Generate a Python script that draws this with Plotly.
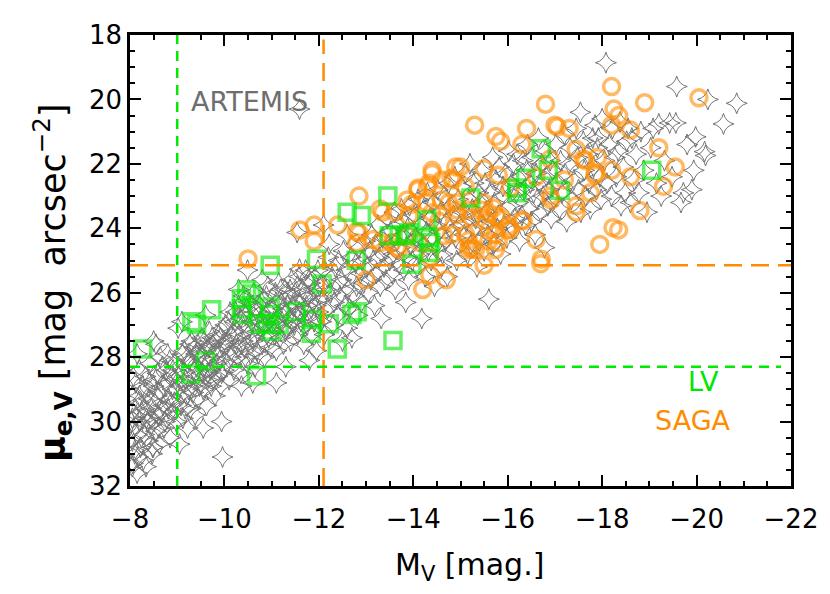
import plotly.graph_objects as go

# ---------------- data ----------------
# ARTEMIS (gray 4-point stars): M_V and mu_e,V, grouped by magnitude band
art_a_mv = [-8.05,-8.05,-8.05,-8.05,-8.08,-8.1,-8.1,-8.12,-8.15,-8.15,-8.18,-8.2,-8.2,-8.22,-8.25,-8.28,-8.3,-8.3,-8.33,-8.35,-8.38,-8.4,-8.42,-8.45,-8.45,-8.48,-8.5,-8.52,-8.55,-8.55,-8.58,-8.6,-8.62,-8.65,-8.68,-8.7,-8.72,-8.75,-8.78,-8.8,-8.82,-8.85,-8.88,-8.9,-8.92,-8.95,-8.98,-8.5,-8.06,-8.49,-8.15]
art_a_mu = [31.4,30.6,29.9,29.2,30.2,31.0,29.6,28.8,30.4,31.6,29.4,30.0,28.4,30.8,29.7,31.2,29.0,30.4,28.6,29.9,30.6,29.3,28.2,30.1,29.6,30.8,28.9,29.4,30.3,27.6,28.5,29.8,30.7,29.1,28.3,29.5,30.2,28.8,29.9,27.9,29.3,30.5,28.6,29.0,29.7,28.2,30.0,27.5,31.3,30.8,27.9]

art_b_mv = [-9.02,-9.05,-9.05,-9.08,-9.1,-9.12,-9.15,-9.18,-9.2,-9.22,-9.25,-9.28,-9.3,-9.32,-9.35,-9.38,-9.4,-9.42,-9.45,-9.48,-9.5,-9.52,-9.55,-9.55,-9.58,-9.6,-9.62,-9.65,-9.68,-9.7,-9.72,-9.75,-9.78,-9.8,-9.82,-9.85,-9.88,-9.9,-9.92,-9.94,-9.96,-9.97,-9.99,-9.1,-9.6]
art_b_mu = [27.1,30.7,28.9,29.5,28.4,29.9,27.8,28.7,29.2,30.2,28.1,29.6,27.5,28.9,28.4,29.8,27.9,28.6,29.3,28.0,28.8,27.4,29.0,30.2,28.3,27.7,29.5,28.5,27.2,28.0,28.9,27.6,28.3,29.2,27.9,28.6,27.3,28.1,28.9,30.0,31.1,27.6,28.4,26.9,26.7]

art_c_mv = [-10.02,-10.05,-10.08,-10.1,-10.12,-10.15,-10.18,-10.2,-10.22,-10.25,-10.28,-10.3,-10.32,-10.35,-10.36,-10.38,-10.4,-10.42,-10.45,-10.48,-10.49,-10.5,-10.52,-10.55,-10.58,-10.6,-10.62,-10.65,-10.68,-10.7,-10.72,-10.75,-10.78,-10.8,-10.82,-10.85,-10.88,-10.9,-10.92,-10.95,-10.98,-10.3,-10.8,-11.1,-10.6]
art_c_mu = [27.0,28.2,27.5,28.7,26.6,27.8,27.2,28.4,26.9,27.6,28.0,26.4,27.3,28.5,28.9,27.0,26.1,27.7,26.7,28.2,25.3,27.3,26.3,27.9,26.9,27.5,26.0,28.3,26.6,27.2,27.9,26.4,26.9,27.6,26.2,28.0,26.7,27.3,25.8,26.9,27.7,25.9,25.6,28.8,28.8]

art_d_mv = [-11.02,-11.05,-11.08,-11.1,-11.12,-11.15,-11.18,-11.2,-11.22,-11.25,-11.28,-11.3,-11.32,-11.35,-11.38,-11.4,-11.42,-11.45,-11.48,-11.5,-11.52,-11.55,-11.58,-11.59,-11.6,-11.62,-11.65,-11.68,-11.7,-11.72,-11.75,-11.78,-11.8,-11.82,-11.85,-11.88,-11.9,-11.92,-11.95,-11.97,-11.99,-11.54,-11.3,-11.8,-11.59]
art_d_mu = [26.5,27.2,26.0,27.8,26.8,25.7,27.4,26.3,26.9,27.6,25.9,26.6,27.1,26.1,26.8,27.5,25.6,26.4,27.0,26.0,26.7,27.3,25.5,25.27,26.3,26.9,25.9,27.6,26.5,25.3,27.0,26.1,26.7,25.7,27.3,26.3,26.9,25.5,27.8,26.0,26.6,24.13,28.3,28.1,20.3]

art_e_mv = [-12.02,-12.05,-12.08,-12.1,-12.12,-12.15,-12.18,-12.2,-12.22,-12.25,-12.28,-12.3,-12.32,-12.35,-12.38,-12.4,-12.42,-12.45,-12.48,-12.5,-12.52,-12.55,-12.58,-12.6,-12.62,-12.65,-12.68,-12.7,-12.72,-12.75,-12.78,-12.8,-12.82,-12.85,-12.88,-12.9,-12.92,-12.95,-12.98,-12.1,-12.6]
art_e_mu = [25.8,26.9,26.2,25.3,27.3,25.9,26.5,24.9,24.5,26.0,25.5,27.0,26.3,25.2,25.8,26.7,25.0,26.1,25.6,27.5,24.7,26.4,25.3,27.1,25.9,26.5,24.9,27.4,25.5,26.1,25.1,25.8,26.7,24.6,25.4,26.3,25.0,25.7,24.4,23.9,24.2]

art_f_mv = [-13.02,-13.05,-13.08,-13.1,-13.12,-13.15,-13.18,-13.2,-13.22,-13.25,-13.28,-13.3,-13.32,-13.35,-13.38,-13.4,-13.42,-13.45,-13.48,-13.5,-13.52,-13.55,-13.58,-13.6,-13.62,-13.65,-13.68,-13.7,-13.72,-13.75,-13.78,-13.8,-13.82,-13.84,-13.85,-13.88,-13.9,-13.92,-13.95,-13.98]
art_f_mu = [25.2,26.0,24.7,25.6,24.2,25.0,26.4,24.5,25.4,23.9,24.9,25.8,26.8,24.3,25.2,24.7,25.6,23.7,24.5,25.0,24.1,25.4,24.8,23.5,25.9,24.4,23.9,25.1,24.6,23.4,24.2,25.3,23.8,26.3,24.9,24.0,25.6,23.3,24.5,25.0]

art_g_mv = [-14.02,-14.05,-14.08,-14.1,-14.12,-14.15,-14.18,-14.2,-14.22,-14.25,-14.28,-14.3,-14.32,-14.35,-14.38,-14.4,-14.42,-14.45,-14.48,-14.5,-14.52,-14.55,-14.58,-14.6,-14.62,-14.65,-14.68,-14.7,-14.72,-14.75,-14.78,-14.8,-14.82,-14.85,-14.88,-14.9,-14.92,-14.95,-14.98]
art_g_mu = [23.6,24.3,25.2,23.1,24.8,23.9,26.8,24.5,23.4,25.5,24.1,22.9,24.7,23.7,25.0,24.3,23.2,25.8,23.9,24.6,22.8,24.1,23.5,25.2,24.8,23.0,24.4,23.8,25.5,22.6,24.0,23.3,24.7,23.6,22.4,24.3,25.0,23.1,23.9]

art_h_mv = [-15.02,-15.05,-15.08,-15.1,-15.12,-15.15,-15.18,-15.2,-15.22,-15.25,-15.28,-15.3,-15.32,-15.35,-15.38,-15.4,-15.42,-15.45,-15.48,-15.5,-15.52,-15.55,-15.58,-15.6,-15.62,-15.65,-15.68,-15.7,-15.72,-15.75,-15.78,-15.8,-15.82,-15.85,-15.88,-15.9,-15.92,-15.95,-15.98]
art_h_mu = [22.7,23.5,24.2,22.3,23.8,24.8,23.1,22.0,24.5,23.4,22.6,24.0,23.7,25.2,22.9,24.4,23.2,22.2,23.9,24.7,22.6,23.5,24.2,26.2,22.9,23.8,21.8,24.5,23.2,22.5,24.0,23.6,22.1,24.8,23.0,22.7,23.9,22.3,24.3]

art_i_mv = [-16.02,-16.05,-16.08,-16.1,-16.12,-16.15,-16.18,-16.2,-16.22,-16.25,-16.28,-16.3,-16.32,-16.35,-16.38,-16.4,-16.42,-16.45,-16.48,-16.5,-16.52,-16.55,-16.58,-16.6,-16.62,-16.65,-16.68,-16.7,-16.72,-16.75,-16.78,-16.8,-16.82,-16.85,-16.88,-16.9,-16.92,-16.95,-16.98]
art_i_mu = [21.6,23.3,22.6,24.0,22.0,23.7,22.9,21.7,23.2,24.4,22.4,23.6,21.9,22.8,23.9,22.2,21.4,23.4,22.6,23.8,21.8,22.9,24.2,22.3,23.1,21.2,22.6,23.5,22.0,23.0,24.6,21.6,22.4,23.3,22.8,21.9,23.7,22.2,23.1]

art_j_mv = [-17.02,-17.05,-17.1,-17.12,-17.15,-17.2,-17.22,-17.25,-17.3,-17.32,-17.35,-17.4,-17.45,-17.48,-17.5,-17.54,-17.55,-17.6,-17.62,-17.65,-17.7,-17.72,-17.75,-17.8,-17.82,-17.85,-17.88,-17.9,-17.92,-17.95,-17.98,-18.0]
art_j_mu = [21.4,22.6,23.4,21.9,22.9,21.1,22.3,23.8,22.0,21.5,23.1,22.5,20.9,21.8,22.8,20.4,23.5,21.3,22.2,23.0,21.7,22.6,23.4,21.2,22.1,20.8,22.8,21.5,21.2,22.4,23.1,20.6]

art_k_mv = [-18.08,-18.05,-18.1,-18.15,-18.2,-18.22,-18.27,-18.3,-18.34,-18.38,-18.4,-18.45,-18.49,-18.52,-18.55,-18.6,-18.63,-18.68,-18.72,-18.78,-18.82,-18.88,-18.95,-19.03,-19.08,-19.15,-19.2,-19.25,-19.32,-19.43,-19.48,-19.56,-19.58,-19.67,-19.72,-19.8,-19.94,-19.98,-20.17,-20.19,-20.24,-20.57,-20.85,-19.9]
art_k_mu = [18.86,21.9,22.6,21.4,23.0,20.9,21.8,22.4,21.6,20.7,23.3,22.1,22.9,21.3,20.9,23.2,21.2,22.5,21.7,22.9,21.0,22.2,23.5,21.5,20.9,22.6,20.76,23.0,21.9,20.73,22.4,20.73,19.6,23.2,22.9,21.4,22.2,21.16,21.62,21.74,20.0,20.76,20.12,22.8]

# extra faint-end ARTEMIS galaxies (dense band)
art_l_mv = [-8.03,-8.07,-8.1,-8.13,-8.17,-8.2,-8.24,-8.27,-8.31,-8.34,-8.37,-8.41,-8.44,-8.47,-8.51,-8.54,-8.57,-8.61,-8.64,-8.67,-8.71,-8.74,-8.77,-8.81,-8.84,-8.87,-8.91,-8.94,-8.97,
            -9.03,-9.07,-9.11,-9.14,-9.17,-9.21,-9.24,-9.27,-9.31,-9.34,-9.37,-9.41,-9.44,-9.47,-9.51,-9.54,-9.57,-9.61,-9.64,-9.67,-9.71,-9.74,-9.77,-9.81,-9.84,-9.87,-9.91,-9.94,-9.97,
            -10.04,-10.09,-10.14,-10.19,-10.24,-10.29,-10.34,-10.39,-10.44,-10.47,-10.54,-10.59,-10.64,-10.69,-10.74,-10.79,-10.84,-10.89,-10.94,-10.99,
            -11.04,-11.09,-11.14,-11.19,-11.24,-11.29,-11.34,-11.39,-11.44,-11.49,-11.54,-11.59,-11.64,-11.69,-11.74,-11.79,-11.84,-11.89,-11.94,-11.98]
art_l_mu = [30.0,28.6,30.9,29.8,31.1,29.2,30.5,28.9,29.6,31.4,30.0,28.8,29.9,31.0,30.0,28.7,29.2,30.2,28.0,29.7,28.9,30.0,28.4,29.6,28.1,29.4,28.4,29.4,28.7,
            28.6,29.2,27.9,28.8,29.6,28.0,29.0,27.6,28.2,29.1,27.7,28.3,27.6,28.9,27.9,28.5,27.5,28.1,28.7,27.7,28.4,27.4,28.7,27.5,28.2,27.8,27.4,28.5,27.1,
            27.6,26.9,28.0,27.4,26.6,27.7,26.8,27.5,28.0,26.5,27.1,26.4,27.4,27.8,26.9,26.3,27.0,26.1,27.4,26.5,
            26.9,26.3,27.0,25.9,26.5,27.2,26.4,25.9,26.9,26.4,25.8,26.6,27.1,26.0,26.4,25.6,26.5,25.9,26.4,25.3]

# SAGA (orange open circles)
saga_mv = [-18.2,-16.8,-18.9,-20.05,-18.25,-18.35,-15.3,-17.0,-17.05,-17.3,-16.4,-18.2,-15.75,-15.85,-18.6,-16.3,-19.2,-17.45,-17.6,-17.65,-17.9,-16.9,-18.2,-19.55,-18.6,-17.85,-19.3,-17.75,-18.8,-17.45,-17.45,-16.9,
           -14.4,-14.9,-15.0,-15.5,-14.8,-14.85,-14.6,-15.8,-14.3,-14.1,-15.1,-16.05,-16.6,-17.2,-17.85,-16.92,-12.85,
           -13.87,-13.91,-14.27,-14.6,-14.75,-14.92,-14.92,-14.92,-15.17,-15.24,-15.42,-15.49,-15.6,-15.7,-15.76,-15.87,-16.02,-16.06,-15.53,-15.6,-15.74,-15.8,-15.74,-15.11,-15.17,-15.17,-15.32,-14.39,-14.54,-14.65,-14.81,-13.87,-14.12,-16.33,
           -11.6,-11.9,-11.9,-12.4,-12.8,-12.85,-12.8,-13.15,-13.3,-13.3,-13.35,-13.6,-13.65,-13.7,-14.35,-14.35,-14.2,-13.0,-10.5,-18.35,-17.95,-16.6,-16.7,-15.5,-14.7,-15.2,-15.25,-15.6,-16.0,-16.3,-13.55,-13.97,-14.1,-14.33,-14.4,-18.23,-16.71]
saga_mu = [19.6,20.15,20.1,19.95,20.3,20.5,20.8,20.8,20.85,20.9,20.9,20.8,21.15,21.3,20.95,21.4,21.5,21.55,21.85,21.9,21.8,21.85,22.2,22.1,22.4,22.35,22.7,22.9,23.45,23.3,23.5,23.0,
           22.2,22.1,22.1,22.15,22.45,22.5,22.5,22.35,22.7,22.75,22.7,22.75,22.4,22.5,22.3,23.12,23.0,
           23.12,23.61,23.21,23.12,23.21,23.21,23.43,23.58,23.43,23.67,23.43,23.21,23.52,23.37,23.61,23.67,23.92,24.04,23.77,24.04,24.2,24.44,24.66,24.2,24.38,24.66,24.66,23.52,23.77,24.23,24.2,24.23,24.44,23.77,
           24.05,23.9,24.4,23.9,24.1,24.15,24.45,24.35,24.45,23.4,23.5,23.5,24.6,24.65,24.9,25.45,25.9,25.6,24.95,24.05,24.5,24.35,25.1,25.15,25.6,24.55,24.65,24.4,24.05,23.75,24.45,23.25,22.8,22.6,22.3,23.98,24.96]

# LV (green open squares)
lv_mv = [-16.71,-16.86,-19.05,-17.11,-16.38,-16.19,-16.2,-15.22,-13.46,-14.29,-12.6,-12.9,-13.49,-13.7,-13.85,-13.91,-14.33,-14.33,-14.37,-13.97,-12.79,-11.95,-10.97,-12.07,
         -8.27,-9.29,-9.6,-9.31,-9.41,-9.73,-10.47,-10.57,-10.36,-10.36,-10.38,-10.68,-10.97,-10.95,-10.74,-10.89,-11.0,-11.16,-11.52,-11.86,-11.84,-12.22,-12.39,-12.7,-12.81,-13.57]
lv_mu = [21.53,22.2,22.2,22.82,22.45,22.75,22.9,23.06,23.0,23.74,23.5,23.6,24.23,24.2,24.23,24.14,24.3,24.75,24.44,25.12,24.99,24.96,25.15,25.73,
         27.75,28.52,28.12,26.9,26.99,26.53,25.91,26.04,26.19,26.5,26.68,28.58,26.44,26.68,26.96,26.99,27.2,26.99,26.59,26.83,27.26,26.96,27.75,26.68,26.59,27.48]

# survey limits
lv_mv_limit = -9.0
saga_mv_limit = -12.1
saga_mu_limit = 25.15
lv_mu_limit = 28.3

x_range = [-8, -22]
y_range = [32, 18]
x_ticks = [-8, -10, -12, -14, -16, -18, -20, -22]
y_ticks = [18, 20, 22, 24, 26, 28, 30, 32]

art_mv = art_a_mv + art_b_mv + art_c_mv + art_d_mv + art_e_mv + art_f_mv + art_g_mv + art_h_mv + art_i_mv + art_j_mv + art_k_mv + art_l_mv
art_mu = art_a_mu + art_b_mu + art_c_mu + art_d_mu + art_e_mu + art_f_mu + art_g_mu + art_h_mu + art_i_mu + art_j_mu + art_k_mu + art_l_mu

# ---------------- figure ----------------
GRAY = "rgb(115,115,115)"
ORANGE = "rgba(255,140,0,0.6)"
GREEN = "rgba(0,230,0,0.6)"

fig = go.Figure()
fig.add_trace(go.Scatter(x=art_mv, y=art_mu, mode="markers", name="ARTEMIS",
                         marker=dict(symbol="star-diamond-open", size=15, color=GRAY,
                                     line=dict(width=1, color=GRAY))))
fig.add_trace(go.Scatter(x=saga_mv, y=saga_mu, mode="markers", name="SAGA",
                         marker=dict(symbol="circle-open", size=16, color=ORANGE,
                                     line=dict(width=3.5, color=ORANGE))))
fig.add_trace(go.Scatter(x=lv_mv, y=lv_mu, mode="markers", name="LV",
                         marker=dict(symbol="square-open", size=16, color=GREEN,
                                     line=dict(width=3.5, color=GREEN))))

# limit lines
fig.add_shape(type="line", xref="x", yref="paper", x0=lv_mv_limit, x1=lv_mv_limit, y0=0, y1=1,
              line=dict(color="rgb(0,235,0)", width=2.5, dash="10px,7px"), layer="above")
fig.add_shape(type="line", xref="x", yref="paper", x0=saga_mv_limit, x1=saga_mv_limit, y0=0, y1=0.99,
              line=dict(color="rgb(255,140,0)", width=2.5, dash="18px,9px"), layer="above")
fig.add_shape(type="line", xref="paper", yref="y", x0=0, x1=1, y0=saga_mu_limit, y1=saga_mu_limit,
              line=dict(color="rgb(255,140,0)", width=2.5, dash="18px,9px"), layer="above")
fig.add_shape(type="line", xref="paper", yref="y", x0=0, x1=0.985, y0=lv_mu_limit, y1=lv_mu_limit,
              line=dict(color="rgb(0,235,0)", width=2.5, dash="10px,7px"), layer="above")

FONT = "DejaVu Sans"
fig.add_annotation(x=-10.53, y=20.05, text="ARTEMIS", showarrow=False,
                   font=dict(family=FONT, size=27, color="rgb(110,110,110)"))
fig.add_annotation(x=-20.15, y=28.75, text="LV", showarrow=False,
                   font=dict(family=FONT, size=27, color="rgb(0,230,0)"))
fig.add_annotation(x=-19.92, y=29.96, text="SAGA", showarrow=False,
                   font=dict(family=FONT, size=27, color="rgb(255,140,0)"))
# axis titles (placed like the reference)
fig.add_annotation(xref="paper", yref="paper", x=-0.118, y=0.45, xanchor="center", yanchor="middle",
                   textangle=-90, showarrow=False,
                   text="<b>μ</b><sub><b>e,V</b></sub> [mag  arcsec<sup>−2</sup>]",
                   font=dict(family=FONT, size=35, color="black"))
fig.add_annotation(xref="paper", yref="paper", x=0.514, y=-0.178, xanchor="center", yanchor="middle",
                   showarrow=False, text="M<sub>V</sub> [mag.]",
                   font=dict(family=FONT, size=30, color="black"))

axis_common = dict(showgrid=False, zeroline=False, showline=True, linewidth=2.5, linecolor="black",
                   mirror="ticks", ticks="inside", ticklen=11, tickwidth=2, tickcolor="black",
                   tickfont=dict(family=FONT, size=26, color="black"))
fig.update_xaxes(range=x_range, tickvals=x_ticks, **axis_common, ticklabelstandoff=8,
                 minor=dict(dtick=0.5, ticks="inside", ticklen=5, tickwidth=1.5, tickcolor="black"))
fig.update_yaxes(range=y_range, tickvals=y_ticks, **axis_common,
                 minor=dict(dtick=0.5, ticks="inside", ticklen=5, tickwidth=1.5, tickcolor="black"))

fig.update_layout(width=822, height=586, showlegend=False,
                  plot_bgcolor="white", paper_bgcolor="white",
                  margin=dict(l=122, r=37, t=22, b=108))

fig.write_html("out.html")
